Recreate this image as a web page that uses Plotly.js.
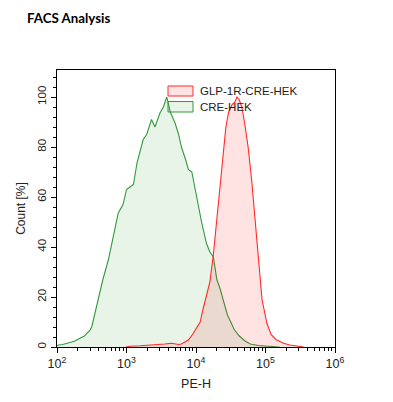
<!DOCTYPE html>
<html><head><meta charset="utf-8">
<script src="https://cdn.plot.ly/plotly-3.0.1.min.js"></script>
<style>html,body{margin:0;padding:0;background:#fff}#chart{width:393px;height:402px}</style>
</head><body><div id="chart"></div>
<script>
// CRE-HEK (green) histogram: PE-H value vs Count [%]
const creX = [100,105,120,145,178,214,251,269,295,316,355,389,457,550,646,759,891,1000,1122,1259,1413,1585,1738,1950,2291,2570,3020,3388,3802,4266,5012,5623,6166,7079,7762,8710,9772,10715,12023,14125,15849,17783,19953,22387,25119,28184,31623,35481,41687,50119,60256,79433,112202,158489];
const creY = [0.5,0.8,1.0,1.5,2.3,3.5,4.5,5.5,6.5,8,14,20,27,35,45,53.5,57,63,64,65,73.5,79,83,85,91,88,93.5,96,100,94,89.5,85,80,75,71,70,63,56,50,41.5,38,36,27,23,18,13,10,7,4.5,2.5,1.2,0.6,0.3,0];
// GLP-1R-CRE-HEK (red) histogram
const glpX = [977,1122,1585,2512,3548,4467,5623,6166,7079,7762,8913,10233,11482,12589,14125,15849,17783,19953,22387,24547,26915,29512,33113,36308,38905,41687,45709,50119,56234,63096,70795,79433,89125,104713,120226,141254,181970,223872,281838,354813];
const glpY = [0,0.3,0.5,0.8,1.2,1.5,1.0,1.2,2,2.8,5,7.5,10,15,20,26,37,52,64,78,88,94,97,98,100,99,96,89.5,80,67,51,32,19,9.5,5,3,1.5,0.8,0.3,0];
const seriesNames = ['GLP-1R-CRE-HEK','CRE-HEK'];
const xTickVals = [100,1000,10000,100000,1000000];
const xTickText = ['10<sup>2</sup>','10<sup>3</sup>','10<sup>4</sup>','10<sup>5</sup>','10<sup>6</sup>'];
const yTickVals = [0,20,40,60,80,100];

const GREEN = '#33993a', RED = '#ff2a2a';
const traces = [
  {x: creX, y: creY, type:'scatter', mode:'lines', name: seriesNames[1], fill:'tozeroy',
   line:{color:GREEN, width:1.1}, fillcolor:'rgba(0,128,0,0.09)', showlegend:false},
  {x: glpX, y: glpY, type:'scatter', mode:'lines', name: seriesNames[0], fill:'tozeroy',
   line:{color:RED, width:1.1}, fillcolor:'rgba(255,0,0,0.11)', showlegend:false}
];
const FONT = 'Liberation Sans, Arial, sans-serif';
const layout = {
  width:393, height:402,
  margin:{l:57, r:58, t:70, b:55},
  paper_bgcolor:'#fff', plot_bgcolor:'#fff',
  title:{text:'<b>FACS Analysis</b>', font:{family:'Lato, Open Sans, sans-serif', size:13.3, color:'#000'},
         xref:'container', yref:'container', x:27/393, xanchor:'left', y:1-18/402, yanchor:'middle'},
  xaxis:{type:'log', range:[2,6], tickvals:xTickVals, ticktext:xTickText, ticks:'outside', ticklen:5,
         tickcolor:'#000', linecolor:'#000', linewidth:1, mirror:true, showline:true, showgrid:false, zeroline:false,
         tickfont:{family:FONT, size:12.5, color:'#222'},
         minor:{ticks:'outside', ticklen:3, tickcolor:'#000', dtick:'D1', showgrid:false},
         title:{text:'PE-H', font:{family:FONT, size:12.5, color:'#222'}, standoff:9}},
  yaxis:{range:[0,110.8], tickvals:yTickVals, ticks:'outside', ticklen:5, tickangle:-90,
         tickcolor:'#000', linecolor:'#000', linewidth:1, mirror:true, showline:true, showgrid:false, zeroline:false,
         tickfont:{family:FONT, size:11.5, color:'#222'},
         minor:{ticks:'outside', ticklen:3, tickcolor:'#000', dtick:4, showgrid:false},
         title:{text:'Count [%]', font:{family:FONT, size:12, color:'#222'}, standoff:8}},
  shapes:[
    {type:'rect', xref:'paper', yref:'paper', x0:(168-57)/278, x1:(193-57)/278, y0:(347-96)/277, y1:(347-86)/277,
     line:{color:RED, width:1}, fillcolor:'rgba(255,0,0,0.11)'},
    {type:'rect', xref:'paper', yref:'paper', x0:(168-57)/278, x1:(193-57)/278, y0:(347-112)/277, y1:(347-101.5)/277,
     line:{color:GREEN, width:1}, fillcolor:'rgba(0,128,0,0.09)'}
  ],
  annotations:[
    {text:seriesNames[0], xref:'paper', yref:'paper', x:(198-57)/278, y:(347-91)/277, xanchor:'left', yanchor:'middle',
     showarrow:false, font:{family:FONT, size:11.5, color:'#222'}},
    {text:seriesNames[1], xref:'paper', yref:'paper', x:(198-57)/278, y:(347-106.5)/277, xanchor:'left', yanchor:'middle',
     showarrow:false, font:{family:FONT, size:11.5, color:'#222'}}
  ]
};
Plotly.newPlot('chart', traces, layout, {displayModeBar:false, staticPlot:true});
</script></body></html>
